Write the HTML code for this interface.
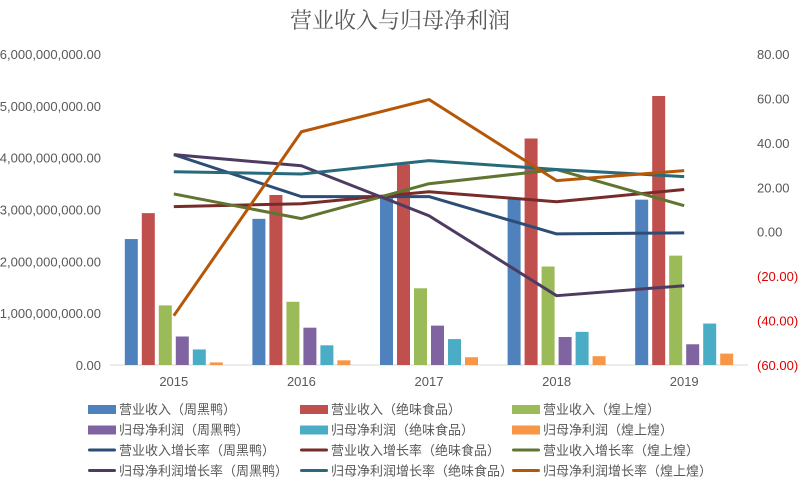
<!DOCTYPE html>
<html><head><meta charset="utf-8"><style>
body{margin:0;background:#fff;}
svg text{font-family:"Liberation Sans","Noto Sans CJK SC",sans-serif;}
</style></head><body>
<svg id="chart" width="800" height="481" xmlns="http://www.w3.org/2000/svg">
<text x="400" y="28" text-anchor="middle" font-size="22" fill="#595959" style="font-family:'Noto Serif CJK SC','Noto Sans CJK SC',serif">营业收入与归母净利润</text>
<g id="axes"></g><g id="bars"></g><g id="lines"></g><g id="legend"></g>
</svg>
<script>
const years=["2015","2016","2017","2018","2019"];
const revZhy=[2.43e9,2.82e9,3.25e9,3.2e9,3.19e9];
const revJw=[2.93e9,3.28e9,3.87e9,4.37e9,5.19e9];
const revHsh=[1.15e9,1.22e9,1.48e9,1.9e9,2.11e9];
const npZhy=[0.55e9,0.72e9,0.76e9,0.54e9,0.4e9];
const npJw=[0.3e9,0.38e9,0.5e9,0.64e9,0.8e9];
const npHsh=[0.05e9,0.09e9,0.15e9,0.17e9,0.22e9];
const revGrZhy=[34.7,15.8,15.8,-1,-0.5];
const revGrJw=[11.3,12.6,18,13.5,19];
const revGrHsh=[17,5.9,21.6,28,11.7];
const npGrZhy=[34.7,29.7,7.2,-28.8,-24.3];
const npGrJw=[27,26,32,28,24.8];
const npGrHsh=[-37.8,45,59.5,23,27.5];
const leftTicks=[0,1e9,2e9,3e9,4e9,5e9,6e9];
const rightTicks=[-60,-40,-20,0,20,40,60,80];

const NS="http://www.w3.org/2000/svg";
const X0=110,X1=748,Y0=365,Y1=54;
const band=(X1-X0)/years.length;
const xC=i=>X0+band*(i+0.5);
const yL=v=>Y0-(v/6e9)*(Y0-Y1);
const yR=v=>Y0-((v+60)/140)*(Y0-Y1);
function mk(tag,attrs,parent){const e=document.createElementNS(NS,tag);for(const k in attrs)e.setAttribute(k,attrs[k]);parent.appendChild(e);return e;}
const axes=document.getElementById('axes');
leftTicks.forEach(v=>{const t=mk('text',{x:101,y:yL(v)+5,'text-anchor':'end','font-size':13,fill:'#595959'},axes);


t.textContent=v.toLocaleString('en-US',{minimumFractionDigits:2});});
rightTicks.forEach(v=>{const t=mk('text',{x:757,y:yR(v)+5,'font-size':13,fill:v<0?'#e00000':'#595959'},axes);


t.textContent=v<0?'('+Math.abs(v).toFixed(2)+')':v.toFixed(2);});
years.forEach((y,i)=>{const t=mk('text',{x:xC(i),y:386,'text-anchor':'middle','font-size':13,fill:'#595959'},axes);


t.textContent=y;});
const bl=mk('line',{x1:X0,x2:X1,y1:Y0,y2:Y0,stroke:'#d9d9d9','stroke-width':1},axes);



const barSeries=[[revZhy,'#4f81bd','营业收入（周黑鸭）'],[revJw,'#c0504d','营业收入（绝味食品）'],[revHsh,'#9bbb59','营业收入（煌上煌）'],[npZhy,'#8064a2','归母净利润（周黑鸭）'],[npJw,'#4bacc6','归母净利润（绝味食品）'],[npHsh,'#f79646','归母净利润（煌上煌）']];
const lineSeries=[[revGrZhy,'#2c4d75','营业收入增长率（周黑鸭）'],[revGrJw,'#772c2a','营业收入增长率（绝味食品）'],[revGrHsh,'#5f7530','营业收入增长率（煌上煌）'],[npGrZhy,'#4d3b62','归母净利润增长率（周黑鸭）'],[npGrJw,'#276a7c','归母净利润增长率（绝味食品）'],[npGrHsh,'#b65708','归母净利润增长率（煌上煌）']];
const bars=document.getElementById('bars');
const bw=13,pitch=17;
barSeries.forEach((s,k)=>{s[0].forEach((v,i)=>{const x=xC(i)-(pitch*5+bw)/2+k*pitch;
const r=mk('rect',{x:x,y:yL(v),width:bw,height:Y0-yL(v),fill:s[1]},bars);

});});
const lines=document.getElementById('lines');
lineSeries.forEach((s,k)=>{const p=mk('polyline',{points:s[0].map((v,i)=>xC(i)+','+yR(v)).join(' '),fill:'none',stroke:s[1],'stroke-width':3,'stroke-linejoin':'round'},lines);

});
const legend=document.getElementById('legend');
const all=barSeries.map(s=>[s,'bar']).concat(lineSeries.map(s=>[s,'line']));
all.forEach((e,idx)=>{const col=idx%3,row=Math.floor(idx/3);const x=88+col*212,y=409+row*20.5;
const g=mk('g',{},legend);


if(e[1]==='bar')mk('rect',{x:x,y:y-4,width:28,height:9,fill:e[0][1]},g);
else mk('rect',{x:x,y:y-1.5,width:28,height:3,fill:e[0][1],rx:1.5},g);
const t=mk('text',{x:x+31,y:y+5,'font-size':13,fill:'#595959'},g);t.textContent=e[0][2];});
</script>
</body></html>
